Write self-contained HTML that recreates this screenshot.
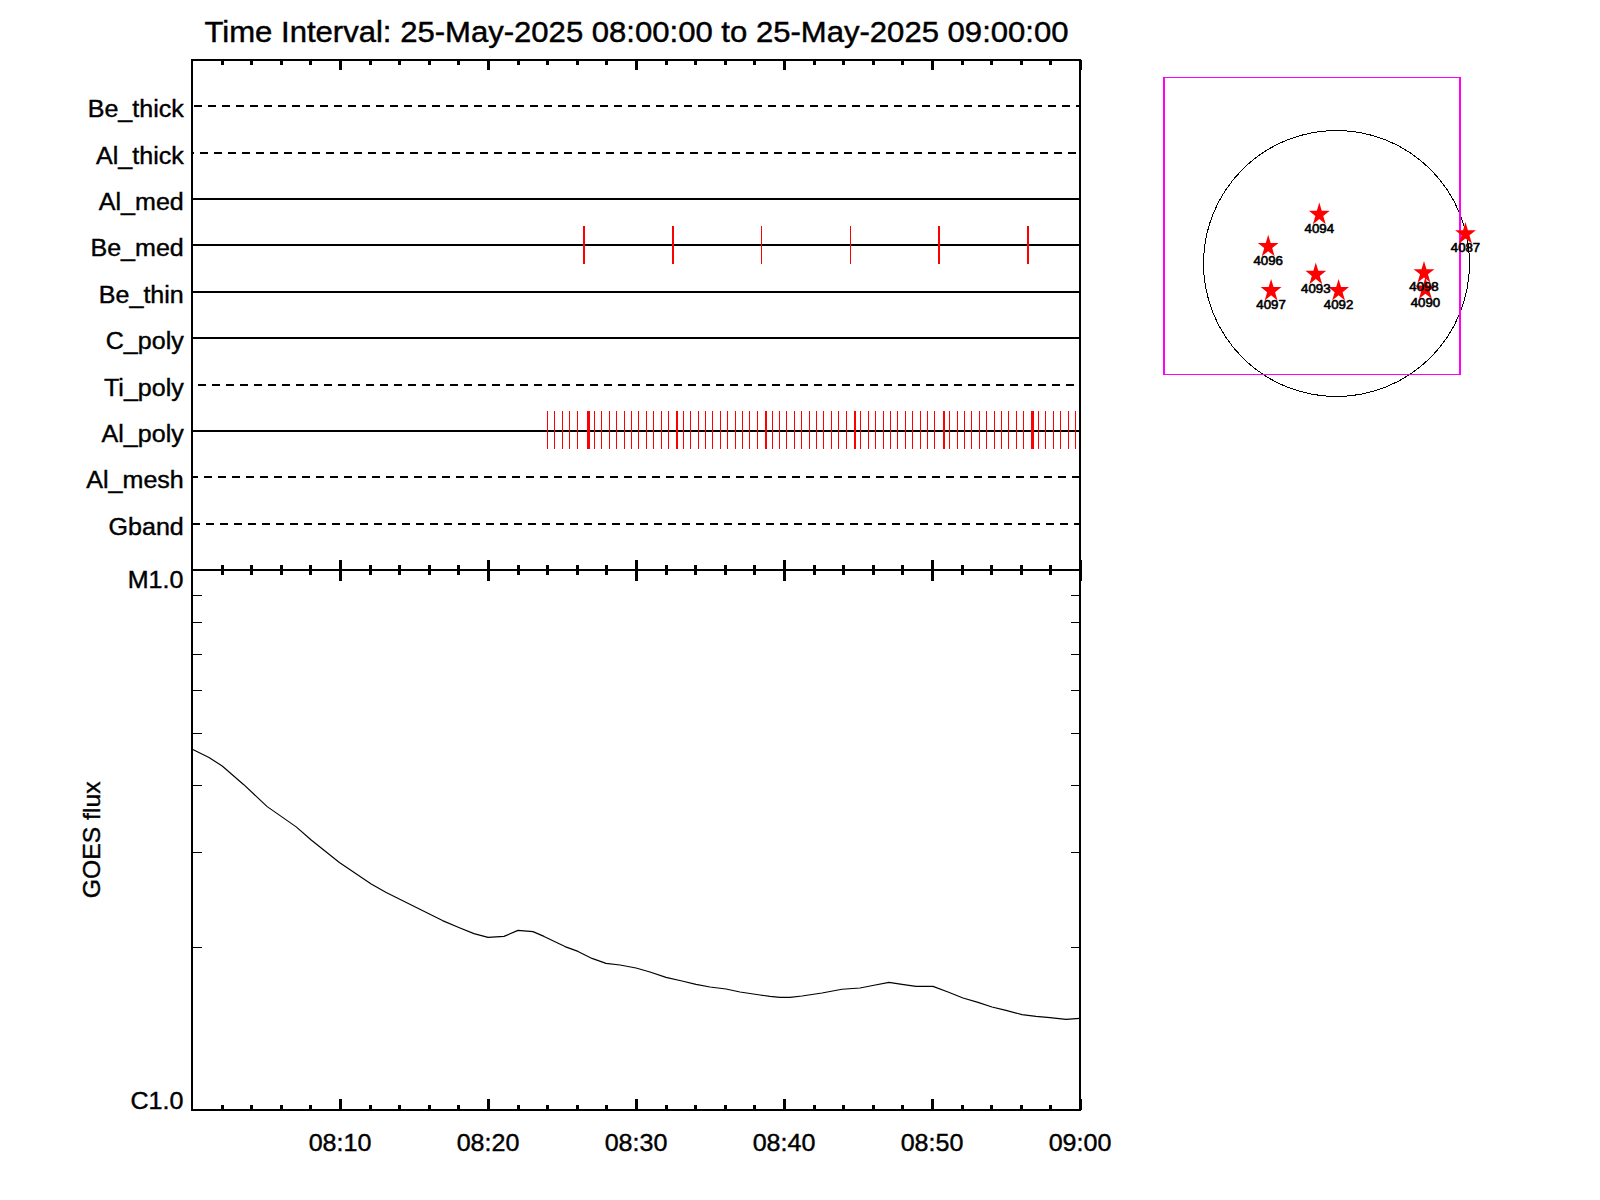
<!DOCTYPE html>
<html lang="en"><head><meta charset="utf-8"><title>XRT Time Interval</title>
<style>
html,body{margin:0;padding:0;background:#fff;}
body{width:1600px;height:1200px;overflow:hidden;}
svg{display:block;}
text{font-family:"Liberation Sans",Arial,Helvetica,sans-serif;fill:#000;}
.t{font-size:30px;stroke:#000;stroke-width:.45px;}
.l{font-size:24px;stroke:#000;stroke-width:.4px;}
.s{font-size:12.5px;stroke:#000;stroke-width:.6px;}
.k{stroke:#000;fill:none;}
.r{stroke:#f00;fill:none;}
</style></head><body>
<svg width="1600" height="1200" viewBox="0 0 1600 1200">
<rect width="1600" height="1200" fill="#fff"/>
<g shape-rendering="crispEdges">
<path class="k" stroke-width="2" d="M192 59V1111M1080 59V1111M191 60H1081M191 570H1081M191 1110H1081"/>
<path class="k" stroke-width="3" d="M222.5 60v5M222.5 565v10M222.5 1110v-5M251.5 60v5M251.5 565v10M251.5 1110v-5M281.5 60v5M281.5 565v10M281.5 1110v-5M310.5 60v5M310.5 565v10M310.5 1110v-5M340.5 60v10M340.5 560v21M340.5 1110v-11M370.5 60v5M370.5 565v10M370.5 1110v-5M399.5 60v5M399.5 565v10M399.5 1110v-5M429.5 60v5M429.5 565v10M429.5 1110v-5M458.5 60v5M458.5 565v10M458.5 1110v-5M488.5 60v10M488.5 560v21M488.5 1110v-11M518.5 60v5M518.5 565v10M518.5 1110v-5M547.5 60v5M547.5 565v10M547.5 1110v-5M577.5 60v5M577.5 565v10M577.5 1110v-5M606.5 60v5M606.5 565v10M606.5 1110v-5M636.5 60v10M636.5 560v21M636.5 1110v-11M666.5 60v5M666.5 565v10M666.5 1110v-5M695.5 60v5M695.5 565v10M695.5 1110v-5M725.5 60v5M725.5 565v10M725.5 1110v-5M754.5 60v5M754.5 565v10M754.5 1110v-5M784.5 60v10M784.5 560v21M784.5 1110v-11M814.5 60v5M814.5 565v10M814.5 1110v-5M843.5 60v5M843.5 565v10M843.5 1110v-5M873.5 60v5M873.5 565v10M873.5 1110v-5M902.5 60v5M902.5 565v10M902.5 1110v-5M932.5 60v10M932.5 560v21M932.5 1110v-11M962.5 60v5M962.5 565v10M962.5 1110v-5M991.5 60v5M991.5 565v10M991.5 1110v-5M1021.5 60v5M1021.5 565v10M1021.5 1110v-5M1050.5 60v5M1050.5 565v10M1050.5 1110v-5M1080.5 60v10M1080.5 560v21M1080.5 1110v-11"/>
<path class="k" stroke-width="1" d="M192 947.5h10M1080 947.5h-9M192 852.5h10M1080 852.5h-9M192 785.5h10M1080 785.5h-9M192 733.5h10M1080 733.5h-9M192 690.5h10M1080 690.5h-9M192 654.5h10M1080 654.5h-9M192 622.5h10M1080 622.5h-9M192 595.5h10M1080 595.5h-9"/>
<path class="k" stroke-width="2" stroke-dasharray="8 6" stroke-dashoffset="0" d="M194 106H1080"/>
<path class="k" stroke-width="2" stroke-dasharray="8 6" stroke-dashoffset="6" d="M192 153H1080"/>
<path class="k" stroke-width="2" d="M192 199H1080"/>
<path class="k" stroke-width="2" d="M192 245H1080"/>
<path class="k" stroke-width="2" d="M192 292H1080"/>
<path class="k" stroke-width="2" d="M192 338H1080"/>
<path class="k" stroke-width="2" stroke-dasharray="8 6" stroke-dashoffset="0" d="M198 385H1080"/>
<path class="k" stroke-width="2" d="M192 431H1080"/>
<path class="k" stroke-width="2" stroke-dasharray="8 6" stroke-dashoffset="2" d="M192 477H1080"/>
<path class="k" stroke-width="2" stroke-dasharray="8 6" stroke-dashoffset="0" d="M192 524H1080"/>
<rect x="583" y="226" width="2" height="38" fill="#f00"/><rect x="672" y="226" width="2" height="38" fill="#f00"/><rect x="761" y="226" width="1" height="38" fill="#f00"/><rect x="850" y="226" width="1" height="38" fill="#f00"/><rect x="938" y="226" width="2" height="38" fill="#f00"/><rect x="1027" y="226" width="2" height="38" fill="#f00"/>
<rect x="547" y="411" width="1" height="38" fill="#f00"/><rect x="554" y="411" width="1" height="38" fill="#f00"/><rect x="562" y="411" width="1" height="38" fill="#f00"/><rect x="569" y="411" width="1" height="38" fill="#f00"/><rect x="577" y="411" width="1" height="38" fill="#f00"/><rect x="587" y="411" width="3" height="38" fill="#f00"/><rect x="594" y="411" width="1" height="38" fill="#f00"/><rect x="601" y="411" width="1" height="38" fill="#f00"/><rect x="609" y="411" width="1" height="38" fill="#f00"/><rect x="616" y="411" width="1" height="38" fill="#f00"/><rect x="624" y="411" width="1" height="38" fill="#f00"/><rect x="631" y="411" width="1" height="38" fill="#f00"/><rect x="638" y="411" width="1" height="38" fill="#f00"/><rect x="646" y="411" width="1" height="38" fill="#f00"/><rect x="653" y="411" width="1" height="38" fill="#f00"/><rect x="661" y="411" width="1" height="38" fill="#f00"/><rect x="668" y="411" width="1" height="38" fill="#f00"/><rect x="676" y="411" width="2" height="38" fill="#f00"/><rect x="683" y="411" width="1" height="38" fill="#f00"/><rect x="690" y="411" width="1" height="38" fill="#f00"/><rect x="698" y="411" width="1" height="38" fill="#f00"/><rect x="705" y="411" width="1" height="38" fill="#f00"/><rect x="712" y="411" width="1" height="38" fill="#f00"/><rect x="720" y="411" width="1" height="38" fill="#f00"/><rect x="727" y="411" width="1" height="38" fill="#f00"/><rect x="735" y="411" width="1" height="38" fill="#f00"/><rect x="742" y="411" width="1" height="38" fill="#f00"/><rect x="749" y="411" width="1" height="38" fill="#f00"/><rect x="757" y="411" width="1" height="38" fill="#f00"/><rect x="765" y="411" width="2" height="38" fill="#f00"/><rect x="772" y="411" width="1" height="38" fill="#f00"/><rect x="779" y="411" width="1" height="38" fill="#f00"/><rect x="786" y="411" width="1" height="38" fill="#f00"/><rect x="794" y="411" width="1" height="38" fill="#f00"/><rect x="801" y="411" width="1" height="38" fill="#f00"/><rect x="809" y="411" width="1" height="38" fill="#f00"/><rect x="816" y="411" width="1" height="38" fill="#f00"/><rect x="823" y="411" width="1" height="38" fill="#f00"/><rect x="831" y="411" width="1" height="38" fill="#f00"/><rect x="838" y="411" width="1" height="38" fill="#f00"/><rect x="846" y="411" width="1" height="38" fill="#f00"/><rect x="854" y="411" width="2" height="38" fill="#f00"/><rect x="860" y="411" width="1" height="38" fill="#f00"/><rect x="868" y="411" width="1" height="38" fill="#f00"/><rect x="875" y="411" width="1" height="38" fill="#f00"/><rect x="883" y="411" width="1" height="38" fill="#f00"/><rect x="890" y="411" width="1" height="38" fill="#f00"/><rect x="897" y="411" width="1" height="38" fill="#f00"/><rect x="905" y="411" width="1" height="38" fill="#f00"/><rect x="912" y="411" width="1" height="38" fill="#f00"/><rect x="920" y="411" width="1" height="38" fill="#f00"/><rect x="927" y="411" width="1" height="38" fill="#f00"/><rect x="934" y="411" width="1" height="38" fill="#f00"/><rect x="943" y="411" width="2" height="38" fill="#f00"/><rect x="949" y="411" width="1" height="38" fill="#f00"/><rect x="957" y="411" width="1" height="38" fill="#f00"/><rect x="964" y="411" width="1" height="38" fill="#f00"/><rect x="971" y="411" width="1" height="38" fill="#f00"/><rect x="979" y="411" width="1" height="38" fill="#f00"/><rect x="986" y="411" width="1" height="38" fill="#f00"/><rect x="994" y="411" width="1" height="38" fill="#f00"/><rect x="1001" y="411" width="1" height="38" fill="#f00"/><rect x="1008" y="411" width="1" height="38" fill="#f00"/><rect x="1016" y="411" width="1" height="38" fill="#f00"/><rect x="1023" y="411" width="1" height="38" fill="#f00"/><rect x="1031" y="411" width="3" height="38" fill="#f00"/><rect x="1038" y="411" width="1" height="38" fill="#f00"/><rect x="1045" y="411" width="1" height="38" fill="#f00"/><rect x="1053" y="411" width="1" height="38" fill="#f00"/><rect x="1060" y="411" width="1" height="38" fill="#f00"/><rect x="1068" y="411" width="1" height="38" fill="#f00"/><rect x="1075" y="411" width="1" height="38" fill="#f00"/>
</g>
<text class="l" transform="translate(183.8 116.5) scale(1.045 1)" text-anchor="end">Be_thick</text>
<text class="l" transform="translate(183.8 163.5) scale(1.045 1)" text-anchor="end">Al_thick</text>
<text class="l" transform="translate(183.8 209.5) scale(1.045 1)" text-anchor="end">Al_med</text>
<text class="l" transform="translate(183.8 255.5) scale(1.045 1)" text-anchor="end">Be_med</text>
<text class="l" transform="translate(183.8 302.5) scale(1.045 1)" text-anchor="end">Be_thin</text>
<text class="l" transform="translate(183.8 348.5) scale(1.045 1)" text-anchor="end">C_poly</text>
<text class="l" transform="translate(183.8 395.5) scale(1.045 1)" text-anchor="end">Ti_poly</text>
<text class="l" transform="translate(183.8 441.5) scale(1.045 1)" text-anchor="end">Al_poly</text>
<text class="l" transform="translate(183.8 487.5) scale(1.045 1)" text-anchor="end">Al_mesh</text>
<text class="l" transform="translate(183.8 534.5) scale(1.045 1)" text-anchor="end">Gband</text>
<text class="t" transform="translate(636.5 42.3) scale(1.036 1)" text-anchor="middle">Time Interval: 25-May-2025 08:00:00 to 25-May-2025 09:00:00</text>
<text class="l" transform="translate(183.4 588) scale(1.045 1)" text-anchor="end">M1.0</text>
<text class="l" transform="translate(183.4 1109) scale(1.045 1)" text-anchor="end">C1.0</text>
<text class="l" transform="translate(340.0 1151) scale(1.045 1)" text-anchor="middle">08:10</text>
<text class="l" transform="translate(488.0 1151) scale(1.045 1)" text-anchor="middle">08:20</text>
<text class="l" transform="translate(636.0 1151) scale(1.045 1)" text-anchor="middle">08:30</text>
<text class="l" transform="translate(784.0 1151) scale(1.045 1)" text-anchor="middle">08:40</text>
<text class="l" transform="translate(932.0 1151) scale(1.045 1)" text-anchor="middle">08:50</text>
<text class="l" transform="translate(1080.0 1151) scale(1.045 1)" text-anchor="middle">09:00</text>
<text class="l" transform="translate(99.9 839.8) rotate(-90) scale(1.03 1)" text-anchor="middle">GOES flux</text>
<polyline class="k" stroke-width="1.15" stroke-linejoin="round" points="192.8,749.4 209.0,757.5 222.2,766.0 243.8,784.7 267.2,806.6 296.2,826.9 311.2,840.0 339.4,862.5 371.2,884.0 386.2,892.5 442.5,920.6 460.0,928.0 474.0,933.6 488.0,937.4 504.0,936.4 518.0,930.4 533.0,931.6 544.0,936.4 565.0,946.6 578.0,951.4 592.0,958.4 606.0,963.4 620.0,965.0 636.0,968.0 650.0,972.0 666.0,977.4 682.0,981.0 696.0,984.4 710.0,987.0 726.0,989.0 740.0,992.0 760.0,995.0 770.0,996.4 780.0,997.4 790.0,997.4 802.0,996.0 822.0,993.0 842.0,989.2 860.0,988.0 874.0,985.2 889.0,982.4 902.0,984.4 916.0,986.4 933.0,986.4 948.0,992.0 963.0,998.0 978.0,1002.4 992.0,1007.0 1006.0,1010.4 1022.0,1014.6 1036.0,1016.4 1050.0,1017.6 1066.0,1019.4 1080.0,1018.4"/>
<circle class="k" stroke-width="1" shape-rendering="crispEdges" cx="1336.5" cy="263.5" r="133"/>
<path shape-rendering="crispEdges" fill="#f0f" d="M1163 77h298v298h-298zM1165 78v296h294v-296z" fill-rule="evenodd"/>
<polygon fill="#f00" points="1319.30,202.60 1321.75,210.82 1329.69,210.82 1323.27,215.91 1325.72,224.13 1319.30,219.05 1312.88,224.13 1315.33,215.91 1308.91,210.82 1316.85,210.82"/>
<polygon fill="#f00" points="1268.20,234.70 1270.65,242.92 1278.59,242.92 1272.17,248.01 1274.62,256.23 1268.20,251.15 1261.78,256.23 1264.23,248.01 1257.81,242.92 1265.75,242.92"/>
<polygon fill="#f00" points="1271.10,278.90 1273.55,287.12 1281.49,287.12 1275.07,292.21 1277.52,300.43 1271.10,295.35 1264.68,300.43 1267.13,292.21 1260.71,287.12 1268.65,287.12"/>
<polygon fill="#f00" points="1315.80,262.60 1318.25,270.82 1326.19,270.82 1319.77,275.91 1322.22,284.13 1315.80,279.05 1309.38,284.13 1311.83,275.91 1305.41,270.82 1313.35,270.82"/>
<polygon fill="#f00" points="1338.60,278.90 1341.05,287.12 1348.99,287.12 1342.57,292.21 1345.02,300.43 1338.60,295.35 1332.18,300.43 1334.63,292.21 1328.21,287.12 1336.15,287.12"/>
<polygon fill="#f00" points="1424.00,261.00 1426.45,269.22 1434.39,269.22 1427.97,274.31 1430.42,282.53 1424.00,277.45 1417.58,282.53 1420.03,274.31 1413.61,269.22 1421.55,269.22"/>
<polygon fill="#f00" points="1425.40,277.30 1427.85,285.52 1435.79,285.52 1429.37,290.61 1431.82,298.83 1425.40,293.75 1418.98,298.83 1421.43,290.61 1415.01,285.52 1422.95,285.52"/>
<polygon fill="#f00" points="1465.50,222.00 1467.95,230.22 1475.89,230.22 1469.47,235.31 1471.92,243.53 1465.50,238.45 1459.08,243.53 1461.53,235.31 1455.11,230.22 1463.05,230.22"/>
<text class="s" transform="translate(1319.3 232.5) scale(1.06 1)" text-anchor="middle">4094</text>
<text class="s" transform="translate(1268.2 264.6) scale(1.06 1)" text-anchor="middle">4096</text>
<text class="s" transform="translate(1271.1 308.8) scale(1.06 1)" text-anchor="middle">4097</text>
<text class="s" transform="translate(1315.8 292.5) scale(1.06 1)" text-anchor="middle">4093</text>
<text class="s" transform="translate(1338.6 308.8) scale(1.06 1)" text-anchor="middle">4092</text>
<text class="s" transform="translate(1424 290.9) scale(1.06 1)" text-anchor="middle">4098</text>
<text class="s" transform="translate(1425.4 307.2) scale(1.06 1)" text-anchor="middle">4090</text>
<text class="s" transform="translate(1465.5 251.9) scale(1.06 1)" text-anchor="middle">4087</text>
</svg></body></html>
